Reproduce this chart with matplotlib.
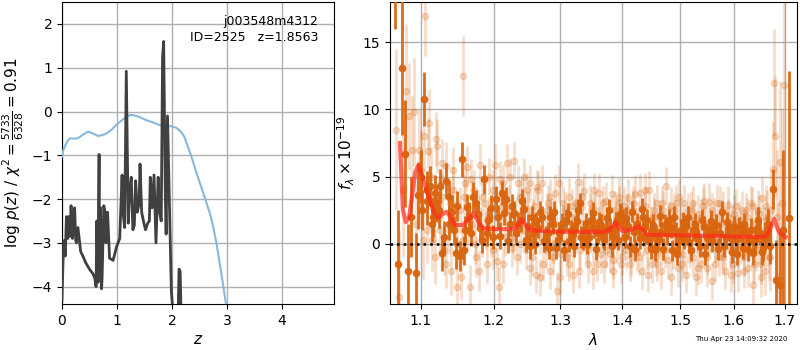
import numpy as np
import matplotlib
matplotlib.use("Agg")
import matplotlib.pyplot as plt
from matplotlib.ticker import FixedLocator, FixedFormatter, NullLocator

# ---------------- left panel data ----------------
pz_z = [0.0, 0.018, 0.036, 0.06, 0.08, 0.105, 0.12, 0.145, 0.165, 0.19, 0.205, 0.23, 0.25,
        0.263, 0.29, 0.34, 0.38, 0.43, 0.5, 0.56, 0.595, 0.62, 0.633, 0.657, 0.675, 0.68,
        0.7, 0.72, 0.73, 0.76, 0.785, 0.8, 0.83, 0.865, 0.93, 0.99, 1.05, 1.093, 1.11, 1.14,
        1.17, 1.206, 1.23, 1.26, 1.29, 1.316, 1.34, 1.37, 1.403, 1.42, 1.45, 1.49, 1.52,
        1.56, 1.59, 1.606, 1.64, 1.675, 1.71, 1.75, 1.77, 1.806, 1.83, 1.85, 1.88, 1.895,
        1.92, 1.96, 1.99, 2.02, 2.05]
pz_val = [-4.3, -3.45, -2.95, -3.3, -2.4, -2.9, -2.4, -2.85, -2.15, -2.9, -2.7, -2.2, -2.95,
          -3.0, -2.65, -3.2, -3.3, -3.45, -3.6, -3.7, -3.8, -4.0, -2.5, -3.9, -0.98, -3.8,
          -2.2, -4.05, -3.8, -2.15, -2.3, -3.0, -2.3, -3.35, -3.4, -3.1, -2.9, -1.45, -2.3,
          -2.65, 0.92, -2.55, -1.85, -1.5, -2.7, -2.6, -1.58, -2.3, -2.1, -1.2, -2.3, -2.55,
          -2.7, -2.55, -2.5, -1.5, -2.2, -1.45, -3.0, -1.5, -2.25, -2.5, 1.25, 1.6, -1.9,
          -2.8, -0.1, -2.4, -4.1, -4.6, -4.8]
pz_z2 = [2.11, 2.13, 2.15, 2.17]
pz_val2 = [-4.8, -3.6, -3.65, -4.8]

chi_z = [0.0, 0.02, 0.05, 0.08, 0.12, 0.15, 0.22, 0.29, 0.38, 0.47, 0.56, 0.66, 0.75, 0.81,
         0.9, 1.0, 1.12, 1.23, 1.29, 1.4, 1.54, 1.66, 1.78, 1.96, 2.08, 2.15, 2.22, 2.27,
         2.36, 2.45, 2.57, 2.69, 2.75, 2.81, 2.9, 2.98, 3.02]
chi_val = [-1.03, -0.9, -0.8, -0.72, -0.64, -0.61, -0.62, -0.61, -0.53, -0.46, -0.5, -0.56,
           -0.53, -0.5, -0.42, -0.29, -0.17, -0.08, -0.08, -0.12, -0.2, -0.25, -0.31, -0.33,
           -0.37, -0.44, -0.56, -0.73, -1.05, -1.41, -1.86, -2.32, -2.62, -3.0, -3.7, -4.36,
           -4.7]

# ---------------- right panel data ----------------
dark_wave = [1.066, 1.0705, 1.0754, 1.079, 1.0826, 1.087, 1.0935, 1.0964, 1.1005, 1.1044,
             1.1083, 1.112, 1.116, 1.1205, 1.125, 1.128, 1.134, 1.137, 1.141, 1.147, 1.152,
             1.155, 1.16, 1.165, 1.171, 1.175, 1.18, 1.186, 1.19, 1.196, 1.204, 1.209,
             1.215, 1.218, 1.224, 1.229, 1.233, 1.24, 1.245, 1.25, 1.254, 1.258, 1.263,
             1.269, 1.274, 1.28, 1.284, 1.288, 1.293, 1.298, 1.303, 1.309, 1.313, 1.318,
             1.323, 1.328, 1.333, 1.337, 1.342, 1.348, 1.353, 1.36, 1.365, 1.37, 1.375,
             1.38, 1.385, 1.39, 1.396, 1.401, 1.406, 1.413, 1.419, 1.425, 1.43, 1.435,
             1.439, 1.445, 1.45, 1.455, 1.461, 1.467, 1.473, 1.48, 1.486, 1.492, 1.498,
             1.505, 1.511, 1.517, 1.524, 1.53, 1.536, 1.543, 1.55, 1.556, 1.563, 1.57,
             1.578, 1.584, 1.59, 1.597, 1.603, 1.61, 1.617, 1.623, 1.63, 1.637, 1.644,
             1.65, 1.657, 1.664, 1.671, 1.6775, 1.683, 1.69, 1.696, 1.709]
dark_flux = [20.5, -1.5, 13.1, 6.7, -2.0, 2.0, -2.2, 3.6, 5.0, 10.8,
             3.2, 4.3, 2.0, 3.0, 4.3, -0.7, 4.7, 1.5, 2.4, -0.7, -0.9,
             6.3, 1.0, 2.0, 3.5, 3.0, 1.2, 4.8, 0.8, 2.65, 3.3, 0.6,
             2.3, 3.3, 1.5, 2.3, 0.8, 1.8, 2.6, 1.3, -0.2, 0.8, 1.6,
             2.4, 0.2, 0.8, 2.0, 1.5, -0.3, 0.8, 1.5, 1.8, 0.2, 0.8,
             1.3, 2.5, 0.5, 1.0, 0.0, 1.8, 1.2, 0.8, 1.4, 0.3, 1.9,
             1.1, 0.6, 1.6, 2.2, 1.8, 1.9, -0.2, 0.9, 1.5, 0.4, 2.0,
             1.3, 0.2, 1.0, -0.45, 0.3, 0.9, 1.4, 1.8, -0.5, 0.8, 0.2,
             1.6, 1.3, 0.1, 1.0, 0.6, -0.2, 1.3, 0.4, 1.7, 1.0, -0.4,
             2.4, 0.5, 1.0, -0.6, 0.3, 1.2, -0.3, 0.8, 0.2, -0.7, 1.1,
             0.8, -0.3, 1.0, -0.2, 4.1, -2.7, -3.1, 1.0, 1.9]
dark_err = [4.5, 4.0, 5.0, 4.0, 3.5, 3.0, 3.0, 2.5, 2.0, 2.0,
            1.8, 1.5, 1.5, 1.4, 1.3, 1.3, 1.3, 1.2, 1.2, 1.2, 1.1,
            1.3, 1.1, 1.1, 1.1, 1.0, 1.0, 1.1, 1.0, 1.0, 1.0, 1.0,
            0.9, 0.9, 0.9, 0.9, 0.9, 0.9, 0.9, 0.9, 0.9, 0.8, 0.8,
            0.8, 0.8, 0.8, 0.8, 0.8, 0.8, 0.8, 0.8, 0.8, 0.8, 0.8,
            0.8, 0.8, 0.8, 0.8, 0.8, 0.8, 0.8, 0.8, 0.8, 0.8, 0.8,
            0.8, 0.8, 0.8, 0.8, 0.8, 0.8, 0.8, 0.8, 0.8, 0.8, 0.8,
            0.8, 0.8, 0.8, 0.8, 0.8, 0.8, 0.8, 0.8, 0.8, 0.8, 0.8,
            0.8, 0.8, 0.8, 0.8, 0.8, 0.8, 0.8, 0.8, 0.8, 0.8, 0.8,
            0.8, 0.8, 0.8, 0.8, 0.8, 0.8, 0.8, 0.8, 0.9, 0.9, 0.9,
            0.9, 1.0, 1.1, 1.3, 1.5, 3.0, 4.0, 6.0, 11.0]

dark2_wave = [1.102, 1.108, 1.114, 1.119, 1.124, 1.131, 1.138, 1.144, 1.149, 1.158,
              1.163, 1.168, 1.178, 1.183, 1.192, 1.199, 1.206, 1.212, 1.221, 1.227,
              1.236, 1.242, 1.248, 1.256, 1.261, 1.266, 1.272, 1.277, 1.282, 1.290,
              1.296, 1.301, 1.306, 1.311, 1.316, 1.321, 1.326, 1.331, 1.336, 1.340,
              1.345, 1.351, 1.357, 1.362, 1.368, 1.373, 1.378, 1.383, 1.388, 1.393,
              1.398, 1.404, 1.409, 1.416, 1.422, 1.428, 1.433, 1.437, 1.442, 1.448,
              1.453, 1.458, 1.464, 1.470, 1.476, 1.483, 1.489, 1.495, 1.501, 1.508,
              1.514, 1.520, 1.527, 1.533, 1.540, 1.546, 1.553, 1.559, 1.566, 1.573,
              1.581, 1.587, 1.594, 1.600, 1.606, 1.613, 1.620, 1.627, 1.633, 1.640,
              1.647, 1.654, 1.661, 1.667]
dark2_flux = [2.5, 4.0, 1.5, 3.8, 2.5, 0.5, 3.5, 1.0, 2.8, -0.5,
              2.7, 0.8, 2.2, 0.3, 1.8, 0.5, 2.0, 3.8, 0.2, 2.8,
              1.5, 3.2, 0.3, 2.0, 0.0, 1.2, 2.0, 0.5, -0.3, 2.4,
              0.3, 1.0, -0.5, 2.2, 1.0, -0.2, 1.7, 3.0, 0.3, 1.5,
              0.5, 2.3, -0.4, 1.6, 0.5, 1.0, 2.5, -0.2, 1.2, 0.3,
              2.0, 0.5, 1.3, 2.4, -0.5, 1.0, 2.6, 0.6, 1.8, -0.3,
              1.4, 0.6, 2.1, -0.4, 0.8, 1.2, 2.0, -0.8, 1.0, 0.4,
              2.0, -0.5, 1.5, 0.3, 1.8, -0.8, 1.0, 0.2, 1.4, 0.8,
              -0.2, 1.6, 0.4, 1.3, -0.8, 0.9, 1.5, -0.5, 1.0, 0.3,
              1.8, -0.6, 0.6, 1.5]
dark2_err = [1.5, 1.4, 1.4, 1.3, 1.3, 1.2, 1.2, 1.1, 1.1, 1.1,
             1.0, 1.0, 1.0, 1.0, 0.9, 0.9, 0.9, 0.9, 0.9, 0.9,
             0.9, 0.9, 0.9, 0.8, 0.8, 0.8, 0.8, 0.8, 0.8, 0.8,
             0.8, 0.8, 0.8, 0.8, 0.8, 0.8, 0.8, 0.8, 0.8, 0.8,
             0.8, 0.8, 0.8, 0.8, 0.8, 0.8, 0.8, 0.8, 0.8, 0.8,
             0.8, 0.8, 0.8, 0.8, 0.8, 0.8, 0.8, 0.8, 0.8, 0.8,
             0.8, 0.8, 0.8, 0.8, 0.8, 0.8, 0.8, 0.8, 0.8, 0.8,
             0.8, 0.8, 0.8, 0.8, 0.8, 0.8, 0.8, 0.8, 0.8, 0.8,
             0.8, 0.8, 0.8, 0.8, 0.8, 0.8, 0.8, 0.8, 0.9, 0.9,
             0.9, 1.0, 1.0, 1.1]

light_wave = [1.068, 1.072, 1.076, 1.080, 1.084, 1.088, 1.091, 1.094, 1.097, 1.100,
              1.103, 1.106, 1.109, 1.111, 1.114, 1.117, 1.120, 1.122, 1.125, 1.128,
              1.131, 1.134, 1.137, 1.140, 1.143, 1.146, 1.149, 1.152, 1.155, 1.157,
              1.160, 1.163, 1.166, 1.169, 1.172, 1.175, 1.178, 1.181, 1.184, 1.187,
              1.190, 1.193, 1.196, 1.199, 1.202, 1.205, 1.208, 1.211, 1.214, 1.217,
              1.220, 1.223, 1.226, 1.229, 1.232, 1.235, 1.238, 1.241, 1.244, 1.247,
              1.250, 1.253, 1.256, 1.259, 1.262, 1.265, 1.268, 1.271, 1.274, 1.277,
              1.280, 1.283, 1.286, 1.289, 1.292, 1.295, 1.298, 1.301, 1.304, 1.307,
              1.310, 1.313, 1.316, 1.319, 1.322, 1.325, 1.328, 1.331, 1.334, 1.337,
              1.340, 1.343, 1.346, 1.349, 1.352, 1.355, 1.358, 1.361, 1.364, 1.367,
              1.370, 1.373, 1.376, 1.379, 1.382, 1.385, 1.388, 1.391, 1.394, 1.397,
              1.400, 1.403, 1.406, 1.409, 1.412, 1.415, 1.418, 1.421, 1.424, 1.427,
              1.430, 1.433, 1.436, 1.439, 1.442, 1.445, 1.448, 1.451, 1.454, 1.457,
              1.460, 1.463, 1.466, 1.469, 1.472, 1.475, 1.478, 1.481, 1.484, 1.487,
              1.490, 1.493, 1.496, 1.499, 1.502, 1.505, 1.508, 1.511, 1.514, 1.517,
              1.520, 1.523, 1.526, 1.529, 1.532, 1.535, 1.538, 1.541, 1.544, 1.547,
              1.550, 1.553, 1.556, 1.559, 1.562, 1.565, 1.568, 1.571, 1.574, 1.577,
              1.580, 1.583, 1.586, 1.589, 1.592, 1.595, 1.598, 1.601, 1.604, 1.607,
              1.610, 1.613, 1.616, 1.619, 1.622, 1.625, 1.628, 1.631, 1.634, 1.637,
              1.640, 1.643, 1.646, 1.649, 1.652, 1.655, 1.658, 1.661, 1.664, 1.667,
              1.670, 1.673, 1.676, 1.679, 1.681, 1.684, 1.687, 1.690, 1.694, 1.698]
light_flux = [8.5, -4.0, 4.0, 11.4, 9.5, 7.0, 9.8, 1.5, 7.0, 5.5,
              0.3, 17.0, 6.9, 9.0, 0.3, 2.5, 7.8, 7.3, 1.0, 3.5,
              -0.5, 5.8, 1.0, -2.0, 4.0, 1.5, -3.2, 2.5, 0.2, 12.5,
              4.5, 5.7, -3.2, 1.5, 4.0, -1.0, 2.5, 5.9, 0.5, 3.0,
              -1.5, 2.0, 0.5, 4.0, 5.9, -1.3, -3.2, 2.8, 4.5, 0.5,
              6.0, 3.0, -0.3, 6.2, 2.0, 4.5, 0.0, 3.5, 5.0, -0.5,
              2.5, 4.5, -1.0, 2.8, -2.3, 4.0, -2.5, 4.5, 1.0, -0.5,
              3.0, -2.0, 2.0, 0.0, 3.8, -3.5, 4.5, -0.8, 1.5, 2.5,
              -1.0, 3.5, 0.5, -2.3, 2.0, 3.0, 4.6, -0.5, 1.5, 3.9,
              0.0, -1.5, 3.0, 1.0, -2.0, 2.5, 0.5, 3.8, -0.8, 2.0,
              -1.5, 3.2, 1.0, -0.8, 3.7, -1.2, 2.5, 0.0, 3.5, -1.5,
              1.5, 2.8, -0.5, 3.4, 1.0, -1.0, 2.5, 3.7, -0.6, 1.8,
              3.8, -2.0, 0.5, 2.8, -0.5, 4.0, 1.0, -1.5, 2.0, -1.0,
              3.0, 0.5, -2.0, 2.5, 0.0, 4.3, -1.2, 1.8, 2.8, -0.5,
              1.0, 3.0, -1.8, 0.5, 2.0, -0.8, 3.0, -2.3, 1.5, 0.0,
              2.5, -1.0, 1.8, -2.5, 2.2, 0.5, -1.5, 2.8, 0.0, 1.5,
              -1.8, 3.1, 0.8, -2.8, 2.0, 0.0, 3.0, -1.0, 1.5, -0.5,
              2.5, -2.0, 1.0, 2.9, -0.5, 1.5, -1.5, 2.2, 0.5, -2.2,
              1.8, 0.0, 2.5, -1.0, 1.2, 2.0, -1.8, 0.5, 2.8, -3.1,
              1.5, -0.5, 2.5, 0.0, -1.5, 3.4, 1.0, -2.0, 2.0, 0.5,
              -1.0, 2.5, 5.6, 12.0, 8.0, 2.0, -2.5, 6.1, 3.0, 11.8]
light_err = [6.0, 5.0, 5.0, 5.0, 4.0, 4.0, 4.0, 3.0, 3.0, 3.0,
             3.0, 3.0, 2.5, 2.5, 2.3, 2.0, 2.0, 2.0, 2.0, 1.8,
             1.8, 1.8, 1.8, 1.8, 1.7, 1.7, 1.7, 1.7, 1.6, 3.0,
             1.6, 1.6, 1.6, 1.6, 1.5, 1.5, 1.5, 1.5, 1.5, 1.5,
             1.5, 1.5, 1.5, 1.5, 1.5, 1.5, 1.5, 1.5, 1.4, 1.4,
             1.4, 1.4, 1.4, 1.4, 1.4, 1.4, 1.4, 1.4, 1.4, 1.4,
             1.4, 1.4, 1.4, 1.4, 1.4, 1.4, 1.4, 1.4, 1.4, 1.4,
             1.4, 1.4, 1.4, 1.4, 1.4, 1.4, 1.4, 1.4, 1.4, 1.4,
             1.4, 1.4, 1.4, 1.4, 1.4, 1.4, 1.4, 1.4, 1.4, 1.4,
             1.4, 1.4, 1.4, 1.4, 1.4, 1.4, 1.4, 1.4, 1.4, 1.4,
             1.4, 1.4, 1.4, 1.4, 1.4, 1.4, 1.4, 1.4, 1.4, 1.4,
             1.4, 1.4, 1.4, 1.4, 1.4, 1.4, 1.4, 1.4, 1.4, 1.4,
             1.4, 1.4, 1.4, 1.4, 1.4, 1.4, 1.4, 1.4, 1.4, 1.4,
             1.4, 1.4, 1.4, 1.4, 1.4, 1.4, 1.4, 1.4, 1.4, 1.4,
             1.4, 1.4, 1.4, 1.4, 1.4, 1.4, 1.4, 1.4, 1.4, 1.4,
             1.4, 1.4, 1.4, 1.4, 1.4, 1.4, 1.4, 1.4, 1.4, 1.4,
             1.4, 1.4, 1.4, 1.4, 1.4, 1.4, 1.4, 1.4, 1.4, 1.4,
             1.4, 1.4, 1.4, 1.4, 1.4, 1.4, 1.4, 1.4, 1.4, 1.4,
             1.4, 1.4, 1.4, 1.4, 1.4, 1.4, 1.4, 1.4, 1.4, 1.5,
             1.5, 1.5, 1.5, 1.5, 1.5, 1.6, 1.7, 1.8, 2.0, 2.2,
             2.5, 3.0, 3.5, 4.0, 4.5, 5.0, 5.5, 6.0, 7.0, 7.0]

light2_wave = [1.0985, 1.1035, 1.1085, 1.1135, 1.1185, 1.1235, 1.1285, 1.1335, 1.1385, 1.1435,
               1.1485, 1.1535, 1.1585, 1.1635, 1.1685, 1.1735, 1.1785, 1.1835, 1.1885, 1.1935,
               1.1985, 1.2035, 1.2085, 1.2135, 1.2185, 1.2235, 1.2285, 1.2335, 1.2385, 1.2435,
               1.2485, 1.2535, 1.2585, 1.2635, 1.2685, 1.2735, 1.2785, 1.2835, 1.2885, 1.2935,
               1.2985, 1.3035, 1.3085, 1.3135, 1.3185, 1.3235, 1.3285, 1.3335, 1.3385, 1.3435,
               1.3485, 1.3535, 1.3585, 1.3635, 1.3685, 1.3735, 1.3785, 1.3835, 1.3885, 1.3935,
               1.3985, 1.4035, 1.4085, 1.4135, 1.4185, 1.4235, 1.4285, 1.4335, 1.4385, 1.4435,
               1.4485, 1.4535, 1.4585, 1.4635, 1.4685, 1.4735, 1.4785, 1.4835, 1.4885, 1.4935,
               1.4985, 1.5035, 1.5085, 1.5135, 1.5185, 1.5235, 1.5285, 1.5335, 1.5385, 1.5435,
               1.5485, 1.5535, 1.5585, 1.5635, 1.5685, 1.5735, 1.5785, 1.5835, 1.5885, 1.5935,
               1.5985, 1.6035, 1.6085, 1.6135, 1.6185, 1.6235, 1.6285, 1.6335, 1.6385, 1.6435,
               1.6485, 1.6535, 1.6585, 1.6635, 1.6685]
light2_flux = [4.0, 8.0, 1.0, 5.0, -1.0, 3.0, 6.0, -1.5, 3.0, 5.5,
               0.0, -2.5, 3.5, 1.0, 4.8, 0.0, -2.0, 3.5, 1.0, 5.0,
               -0.5, 2.0, 4.8, -1.5, 2.5, 5.0, 0.5, -1.0, 3.5, 1.0,
               4.0, -1.8, 2.0, 4.2, 0.5, -1.5, 2.5, 3.5, -1.0, 1.5,
               -2.5, 3.0, 0.0, -1.5, 2.8, 0.5, -2.0, 3.5, 1.0, -0.5,
               2.5, 4.0, -1.5, 1.5, 3.0, -0.5, 1.0, -2.0, 2.0, 3.0,
               -1.0, 0.5, 2.5, -1.5, 3.0, 1.0, -1.0, 2.0, 4.0, -2.3,
               1.5, 2.5, -1.5, 0.5, 3.0, -0.5, 1.5, -2.5, 2.5, 0.0,
               3.5, -1.5, 1.0, 2.5, -0.5, 3.0, 0.5, -1.8, 2.0, 3.2,
               -1.0, 0.5, 2.5, -1.5, 1.0, 3.0, -1.0, 0.5, 2.0, -2.3,
               1.5, 2.8, -0.5, 1.0, -2.0, 2.5, 0.0, 3.0, -1.5, 1.2,
               2.2, -2.5, 0.5, 2.8, -1.0]
light2_err = [2.8, 2.6, 2.4, 2.2, 2.0, 1.9, 1.8, 1.8, 1.7, 1.7,
              1.6, 1.6, 1.6, 1.5, 1.5, 1.5, 1.5, 1.5, 1.4, 1.4,
              1.4, 1.4, 1.4, 1.4, 1.4, 1.4, 1.3, 1.3, 1.3, 1.3,
              1.3, 1.3, 1.3, 1.3, 1.3, 1.3, 1.3, 1.3, 1.3, 1.3,
              1.3, 1.3, 1.3, 1.3, 1.3, 1.3, 1.3, 1.3, 1.3, 1.3,
              1.3, 1.3, 1.3, 1.3, 1.3, 1.3, 1.3, 1.3, 1.3, 1.3,
              1.3, 1.3, 1.3, 1.3, 1.3, 1.3, 1.3, 1.3, 1.3, 1.3,
              1.3, 1.3, 1.3, 1.3, 1.3, 1.3, 1.3, 1.3, 1.3, 1.3,
              1.3, 1.3, 1.3, 1.3, 1.3, 1.3, 1.3, 1.3, 1.3, 1.3,
              1.3, 1.3, 1.3, 1.3, 1.3, 1.3, 1.3, 1.3, 1.3, 1.3,
              1.3, 1.3, 1.3, 1.3, 1.3, 1.3, 1.3, 1.3, 1.4, 1.4,
              1.4, 1.5, 1.5, 1.6, 1.8]

model_wave = [1.0727, 1.0765, 1.0804, 1.0845, 1.0885, 1.0925, 1.0964, 1.1005, 1.1045,
              1.1085, 1.1119, 1.1165, 1.1229, 1.1285, 1.1344, 1.1395, 1.1458, 1.1573,
              1.1625, 1.1712, 1.1785, 1.1853, 1.1996, 1.229, 1.2355, 1.2411, 1.247,
              1.2534, 1.27, 1.3043, 1.369, 1.3785, 1.389, 1.3945, 1.401, 1.415, 1.428,
              1.436, 1.442, 1.536, 1.60, 1.650, 1.664, 1.672, 1.6785, 1.685, 1.690, 1.702]
model_flux = [7.5, 2.5, 1.6, 2.0, 3.6, 5.3, 5.83, 5.3, 4.5, 3.8, 3.27, 2.4, 1.91, 2.2, 2.38,
              2.0, 1.39, 1.39, 1.7, 2.28, 1.6, 1.17, 1.09, 1.09, 1.4, 1.79, 1.4,
              1.04, 0.95, 0.89, 0.88, 1.05, 1.59, 1.2, 0.92, 1.05, 1.29, 1.0, 0.67, 0.6,
              0.55, 0.5, 0.6, 1.2, 1.86, 1.2, 0.79, 0.5]

xticks = [1.1, 1.2, 1.3, 1.4, 1.5, 1.6, 1.7]
xtick_labels = ["1.1", "1.2", "1.3", "1.4", "1.5", "1.6", "1.7"]

# ---------------- figure ----------------
fig = plt.figure(figsize=(8, 3.5), dpi=100)
ax1 = fig.add_axes([0.0775, 0.131, 0.34, 0.863])
ax2 = fig.add_axes([0.4875, 0.131, 0.5085, 0.863])

ax1.plot(chi_z, chi_val, color="#88b8dc", lw=1.5, zorder=3)
ax1.plot(pz_z, pz_val, color="#404040", lw=2, zorder=4)
ax1.plot(pz_z2, pz_val2, color="#404040", lw=2, zorder=4)
ax1.set_xlim(0, 4.95)
ax1.set_ylim(-4.4, 2.5)
ax1.set_xticks([0, 1, 2, 3, 4])
ax1.set_yticks([-4, -3, -2, -1, 0, 1, 2])
ax1.grid(color="#b0b0b0", lw=1)
ax1.set_axisbelow(True)
ax1.set_xlabel(r"$z$", fontsize=11, labelpad=3)
ax1.set_ylabel(r"$\log\,p(z)$ / $\chi^2=\frac{5733}{6328}=0.91$", fontsize=11)
ax1.text(0.942, 0.958, "j003548m4312\nID=2525   z=1.8563", transform=ax1.transAxes,
         ha="right", va="top", fontsize=9, linespacing=1.3)

dark_col = "#d9650f"
for w, f, e in ((light_wave, light_flux, light_err), (light2_wave, light2_flux, light2_err)):
    ax2.errorbar(w, f, yerr=e, fmt="o", color=dark_col, alpha=0.22, ms=4.5,
                 elinewidth=2, capsize=0, zorder=2)
for w, f, e in ((dark_wave, dark_flux, dark_err), (dark2_wave, dark2_flux, dark2_err)):
    ax2.errorbar(w, f, yerr=e, fmt="o", color=dark_col, alpha=0.95, ms=4.5,
                 elinewidth=2, capsize=0, zorder=3)
ax2.plot(model_wave, model_flux, color="#ff2a1a", alpha=0.7, lw=3, zorder=5)
ax2.axhline(0, color="k", ls=":", lw=1.8, zorder=6)
ax2.set_xscale("log")
ax2.set_xlim(1.06, 1.725)
ax2.set_ylim(-4.5, 18)
ax2.xaxis.set_major_locator(FixedLocator(xticks))
ax2.xaxis.set_major_formatter(FixedFormatter(xtick_labels))
ax2.xaxis.set_minor_locator(NullLocator())
ax2.set_yticks([0, 5, 10, 15])
ax2.grid(color="#b0b0b0", lw=1)
ax2.set_axisbelow(True)
ax2.set_xlabel(r"$\lambda$", fontsize=11, labelpad=3)
ax2.set_ylabel(r"$f_\lambda\times10^{-19}$", fontsize=11)

for ax in (ax1, ax2):
    ax.tick_params(labelsize=10)

fig.text(0.984, 0.031, "Thu Apr 23 14:09:32 2020", ha="right", va="center", fontsize=5)

fig.savefig("out.png", dpi=100)
